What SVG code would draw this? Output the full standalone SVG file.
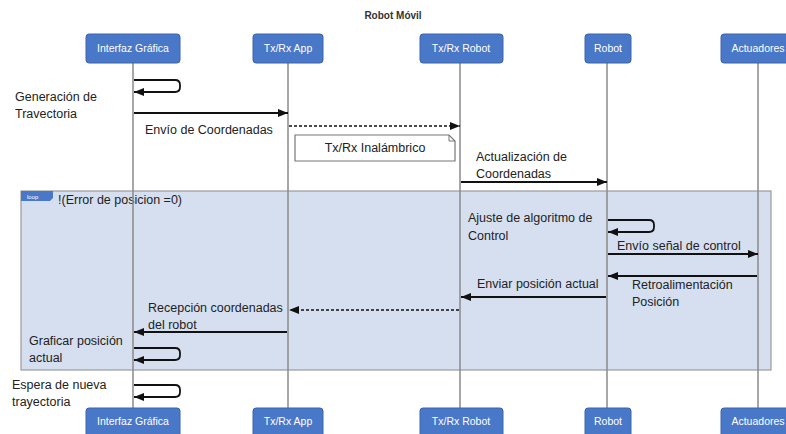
<svg xmlns="http://www.w3.org/2000/svg" width="786" height="434" viewBox="0 0 786 434">
<style>
.hd{fill:#4a78c8;stroke:#3a64ad;stroke-width:1}
.ht{font-family:"Liberation Sans",Arial,sans-serif;font-size:10.5px;fill:#fff;text-anchor:middle}
.ll{stroke:#8a8a8a;stroke-width:1.5}
.t{font-family:"Liberation Sans",Arial,sans-serif;font-size:12.5px;fill:#222}
.m{stroke:#111;stroke-width:1.8;fill:none}
.d{stroke:#111;stroke-width:1.5;fill:none;stroke-dasharray:3,2}
</style>
<defs>
<marker id="ah" viewBox="0 0 10 8" refX="10" refY="4" markerWidth="10" markerHeight="8" markerUnits="userSpaceOnUse" orient="auto">
<path d="M0,0 L10,4 L0,8 Z" fill="#111"/>
</marker>
</defs>
<rect width="786" height="434" fill="#fff"/>
<text x="393" y="19" text-anchor="middle" font-family="Liberation Sans,Arial,sans-serif" font-size="10px" font-weight="bold" fill="#333">Robot Móvil</text>

<g id="loop">
<rect x="21" y="191" width="750" height="179" fill="#d6dff0" stroke="#9a9a9a" stroke-width="1.2"/>
<path d="M21,191 H53 V198 L50,201 H21 Z" fill="#4a78c8"/>
<text x="27" y="199" font-family="Liberation Sans,Arial,sans-serif" font-size="6px" fill="#fff">loop</text>
<text class="t" x="58" y="204">!(Error de posicion =0)</text>
</g>

<g id="lifelines">
<line class="ll" x1="133" y1="63" x2="133" y2="408"/>
<line class="ll" x1="288" y1="63" x2="288" y2="408"/>
<line class="ll" x1="460" y1="63" x2="460" y2="408"/>
<line class="ll" x1="607" y1="63" x2="607" y2="408"/>
<line class="ll" x1="758" y1="63" x2="758" y2="408"/>
</g>

<g id="interfaz">
<rect class="hd" x="86" y="34" width="94" height="29" rx="3"/>
<text class="ht" x="133" y="52">Interfaz Gráfica</text>
<rect class="hd" x="86" y="408" width="94" height="30" rx="3"/>
<text class="ht" x="133" y="425">Interfaz Gráfica</text>
</g>
<g id="txrxapp">
<rect class="hd" x="253" y="34" width="70" height="29" rx="3"/>
<text class="ht" x="288" y="52">Tx/Rx App</text>
<rect class="hd" x="253" y="408" width="70" height="30" rx="3"/>
<text class="ht" x="288" y="425">Tx/Rx App</text>
</g>
<g id="txrxrobot">
<rect class="hd" x="420" y="34" width="83" height="29" rx="3"/>
<text class="ht" x="461" y="52">Tx/Rx Robot</text>
<rect class="hd" x="420" y="408" width="83" height="30" rx="3"/>
<text class="ht" x="461" y="425">Tx/Rx Robot</text>
</g>
<g id="robot">
<rect class="hd" x="585" y="34" width="46" height="29" rx="3"/>
<text class="ht" x="608" y="52">Robot</text>
<rect class="hd" x="585" y="408" width="46" height="30" rx="3"/>
<text class="ht" x="608" y="425">Robot</text>
</g>
<g id="actuadores">
<rect class="hd" x="721" y="34" width="76" height="29" rx="3"/>
<text class="ht" x="758" y="52">Actuadores</text>
<rect class="hd" x="721" y="408" width="76" height="30" rx="3"/>
<text class="ht" x="758" y="425">Actuadores</text>
</g>

<g id="note">
<path d="M295,135 H449 L455,141 V161 H295 Z" fill="#fff" stroke="#777" stroke-width="1.2"/>
<path d="M449,135 V141 H455" fill="none" stroke="#777" stroke-width="1"/>
<text class="t" x="375" y="152" text-anchor="middle">Tx/Rx Inalámbrico</text>
</g>

<g id="connectors">
<path class="m" d="M134,80 H175 Q180,80 180,85 V87 Q180,92 175,92 H134" marker-end="url(#ah)"/>
<line class="m" x1="134" y1="113" x2="288" y2="113" marker-end="url(#ah)"/>
<line class="d" x1="289" y1="126" x2="460" y2="126" marker-end="url(#ah)"/>
<line class="m" x1="461" y1="182" x2="607" y2="182" marker-end="url(#ah)"/>
<path class="m" d="M608,220 H649 Q654,220 654,225 V227 Q654,232 649,232 H608" marker-end="url(#ah)"/>
<line class="m" x1="608" y1="254" x2="758" y2="254" marker-end="url(#ah)"/>
<line class="m" x1="757" y1="276" x2="608" y2="276" marker-end="url(#ah)"/>
<line class="m" x1="606" y1="297" x2="461" y2="297" marker-end="url(#ah)"/>
<line class="d" x1="459" y1="310" x2="289" y2="310" marker-end="url(#ah)"/>
<line class="m" x1="287" y1="332" x2="134" y2="332" marker-end="url(#ah)"/>
<path class="m" d="M134,348 H175 Q180,348 180,353 V355 Q180,360 175,360 H134" marker-end="url(#ah)"/>
<path class="m" d="M134,385 H175 Q180,385 180,390 V392 Q180,397 175,397 H134" marker-end="url(#ah)"/>
</g>

<g id="labels">
<text class="t" x="15" y="101">Generación de</text>
<text class="t" x="15" y="118">Travectoria</text>
<text class="t" x="145" y="134">Envío de Coordenadas</text>
<text class="t" x="476" y="161">Actualización de</text>
<text class="t" x="476" y="178">Coordenadas</text>
<text class="t" x="468" y="222">Ajuste de algoritmo de</text>
<text class="t" x="468" y="240">Control</text>
<text class="t" x="617" y="250">Envío señal de control</text>
<text class="t" x="632" y="289">Retroalimentación</text>
<text class="t" x="632" y="306">Posición</text>
<text class="t" x="477" y="288">Enviar posición actual</text>
<text class="t" x="148" y="312">Recepción coordenadas</text>
<text class="t" x="148" y="329">del robot</text>
<text class="t" x="29" y="345">Graficar posición</text>
<text class="t" x="29" y="362">actual</text>
<text class="t" x="12" y="389">Espera de nueva</text>
<text class="t" x="12" y="406">trayectoria</text>
</g>
</svg>
